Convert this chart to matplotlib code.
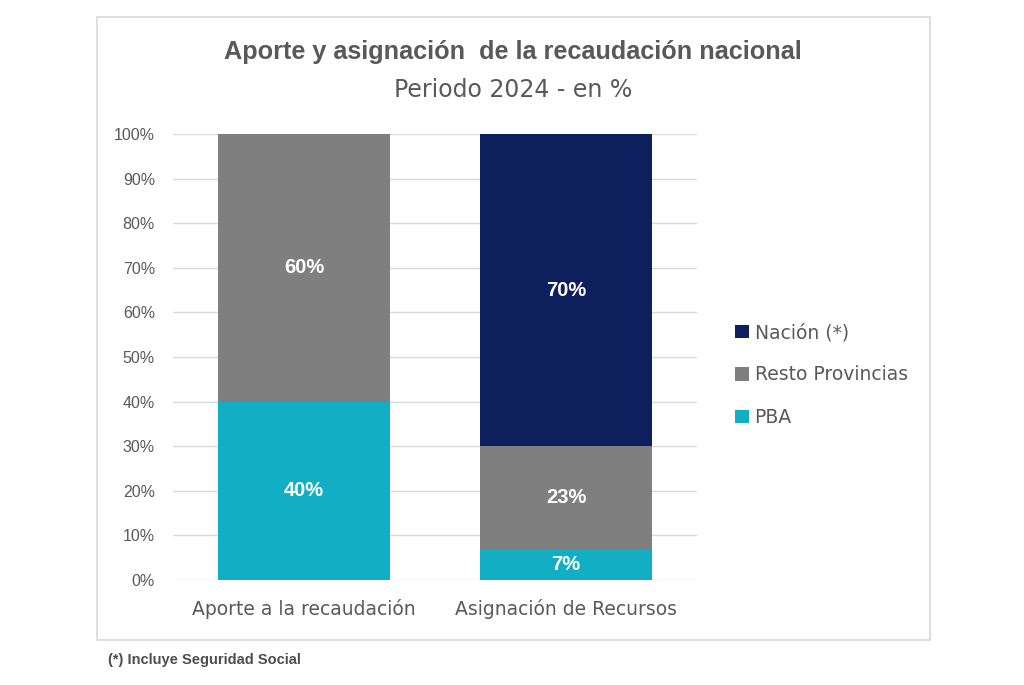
import matplotlib.pyplot as plt
from matplotlib.patches import Rectangle
from matplotlib.ticker import PercentFormatter

categorias = ["Aporte a la recaudación", "Asignación de Recursos"]
pba = [40, 7]
resto = [60, 23]
nacion = [0, 70]

c_pba = "#12aec4"
c_resto = "#7f7f7f"
c_nacion = "#0d1f5c"
gris_txt = "#595959"
arial = ["Liberation Sans", "DejaVu Sans"]

fig = plt.figure(figsize=(10.24, 6.85), dpi=100)
W, H = 1024, 685

# marco del grafico
fig.patches.append(Rectangle((97 / W, 1 - 640 / H), (930 - 97) / W, (640 - 17) / H,
                             transform=fig.transFigure, fill=False,
                             edgecolor="#d9d9d9", linewidth=1.2))

ax = fig.add_axes([173 / W, 1 - 580 / H, (697 - 173) / W, (580 - 134) / H])

x = range(len(categorias))
ancho = 0.66
b1 = ax.bar(x, pba, ancho, color=c_pba, label="PBA", zorder=3)
b2 = ax.bar(x, resto, ancho, bottom=pba, color=c_resto, label="Resto Provincias", zorder=3)
base3 = [p + r for p, r in zip(pba, resto)]
b3 = ax.bar(x, nacion, ancho, bottom=base3, color=c_nacion, label="Nación (*)", zorder=3)

for bars, vals, bases in [(b1, pba, [0, 0]), (b2, resto, pba), (b3, nacion, base3)]:
    for rect, v, b in zip(bars, vals, bases):
        if v > 0:
            ax.text(rect.get_x() + rect.get_width() / 2, b + v / 2, f"{v}%",
                    ha="center", va="center", color="white", fontsize=14.5,
                    fontweight="bold", family=arial, zorder=4)

ax.set_xlim(-0.5, 1.5)
ax.set_ylim(0, 100)
ax.set_yticks(range(0, 101, 10))
ax.yaxis.set_major_formatter(PercentFormatter(decimals=0))
ax.set_xticks(list(x))
ax.set_xticklabels(categorias, fontsize=13.5, color=gris_txt)
for t in ax.get_yticklabels():
    t.set_family(arial)
ax.tick_params(axis="y", labelsize=11.5, colors=gris_txt, length=0, pad=13)
ax.tick_params(axis="x", length=0, pad=14)
ax.grid(axis="y", color="#d9d9d9", linewidth=1, zorder=0)
for s in ax.spines.values():
    s.set_visible(False)

h, l = ax.get_legend_handles_labels()
fig.legend(h[::-1], l[::-1], loc="center left", bbox_to_anchor=(718 / W, 1 - 375 / H),
           frameon=False, fontsize=13.5, labelcolor=gris_txt, handlelength=0.75,
           handleheight=0.75, handletextpad=0.3, labelspacing=1.25)

fig.text(513 / W, 1 - 52 / H, "Aporte y asignación  de la recaudación nacional",
         ha="center", va="center", fontsize=18.2, fontweight="bold", color=gris_txt,
         family=arial)
fig.text(513 / W, 1 - 90 / H, "Periodo 2024 - en %", ha="center", va="center",
         fontsize=17, color=gris_txt)

fig.text(108 / W, 1 - 660 / H, "(*) Incluye Seguridad Social", ha="left", va="center",
         fontsize=10.5, fontweight="bold", color="#4d4d4d", family=arial)

fig.savefig("out.png", dpi=100, facecolor="white")
